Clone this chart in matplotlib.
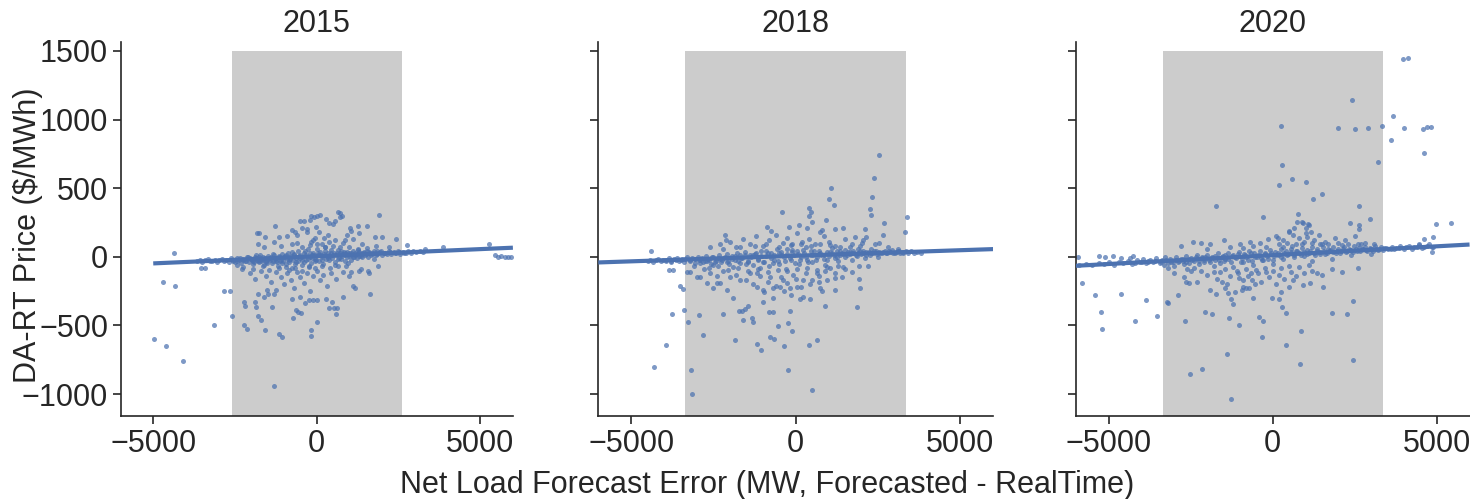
import numpy as np
import matplotlib
matplotlib.use("Agg")
import matplotlib.pyplot as plt

# =========================
# Data
# =========================
years = ["2015", "2018", "2020"]

# fitted line per year: slope, intercept, x range of the drawn line
fit_slope = [0.0104, 0.0081, 0.0129]
fit_intercept = [4, 7.5, 12]
fit_x_start = [-5000, -6000, -6000]
fit_x_end = [6000, 6000, 6000]

# shaded band (+/- forecast error range) per year
band_half_width = [2600, 3350, 3350]

# --- 2015 ---
band_2015 = [
    (-3650, -30), (-3580, -22), (-3500, -38), (-3420, -25), (-3340, -18), (-3270, -33), (-3200, -28),
    (-3120, -20), (-3050, -36), (-2980, -24), (-2900, -14), (-2830, -31), (-2760, -22), (-2690, -40),
    (-2620, -12), (-2560, -27), (-2500, -35), (-2440, -8), (-2380, -20), (-2320, -45), (-2260, -15),
    (-2200, -28), (-2140, 2), (-2080, -38), (-2020, -18), (-1960, -55), (-1900, -5), (-1840, -25),
    (-1780, -40), (-1720, 10), (-1660, -15), (-1600, -60), (-1540, -30), (-1480, 5), (-1420, -20),
    (-1360, -45), (-1300, 15), (-1240, -10), (-1180, -70), (-1120, -28), (-1060, 20), (-1000, -5),
    (-940, -50), (-880, 30), (-820, -18), (-760, -80), (-700, 10), (-640, -35), (-580, 45), (-520, -12),
    (-460, -60), (-400, 25), (-340, -25), (-280, 55), (-220, 0), (-160, -45), (-100, 30), (-40, -15),
    (20, 60), (80, -30), (140, 15), (200, -55), (260, 40), (320, 5), (380, -25), (440, 50), (500, 12),
    (560, -40), (620, 30), (680, -8), (740, 45), (800, 18), (860, -30), (920, 35), (980, 8), (1040, -20),
    (1100, 40), (1160, 15), (1220, -12), (1280, 32), (1340, 20), (1400, -5), (1460, 38), (1520, 22),
    (1580, 0), (1640, 30), (1700, 18), (1760, 42), (1820, 10), (1880, 28), (1940, 35), (2000, 15),
    (2070, 30), (2140, 22), (2210, 40), (2280, 18), (2350, 32), (2420, 25), (2490, 45), (2560, 20),
    (2640, 35), (2720, 28), (2800, 40), (2880, 30), (2960, 45), (3050, 35), (3150, 42), (3250, 38),
    (-2100, -5), (-1950, -30), (-1850, 12), (-1750, -22), (-1650, -2), (-1550, -38), (-1450, -12),
    (-1350, 22), (-1250, -32), (-1150, 5), (-1050, -45), (-950, 15), (-850, -25), (-750, 35), (-650, -55),
    (-550, 8), (-450, -20), (-350, 40), (-250, -65), (-150, 10), (-50, -30), (50, 25), (150, -20),
    (250, 70), (350, -10), (450, 28), (550, -60), (650, 50), (750, -15), (850, 25), (950, -45), (1050, 30),
    (1150, -5), (1250, 50), (1350, 5), (1450, 25), (1550, 45), (1650, 10), (1750, -15), (1850, 40),
    (-2550, -20), (-2450, -30), (-2350, -12), (-2250, -25), (-2150, -32), (-2050, -8), (-1990, -22),
    (-1920, -35), (-1870, -12), (-1810, -28), (-1760, -5), (-1700, -30), (-1640, -20), (-1580, -8),
    (-1520, -42), (-1460, -18), (-1400, 0), (-1340, -28), (-1280, -15), (-1220, -38), (-1160, 0),
    (-1100, -20), (-1040, -32), (-980, 8), (-920, -18), (-860, -40), (-800, 5), (-740, -22), (-680, 20),
    (-620, -10), (-560, -28), (-500, 15), (-440, -5), (-380, -35), (-320, 12), (-260, -15), (-200, 25),
    (-140, -8), (-80, 15), (-20, -25), (40, 10), (100, 35), (160, -5), (220, 20), (280, -15), (340, 30),
    (400, 8), (460, -12), (520, 25), (580, 10), (640, -15), (700, 28), (760, 5), (820, 35), (880, 12),
    (940, -5), (1000, 25), (1060, 15), (1120, 0), (1180, 30), (1240, 22), (1300, 5), (1380, 28),
    (1480, 15), (1600, 35), (1720, 25), (1840, 20), (1960, 40), (2100, 28), (2240, 35), (2380, 30),
    (2520, 38), (2660, 30),
]
spread_2015 = [
    (-2300, -90), (-2050, -120), (-1900, -160), (-1700, -100), (-1550, -140), (-1400, -180), (-1250, -110),
    (-1100, -150), (-1000, -200), (-900, -120), (-800, -170), (-700, -230), (-600, -110), (-500, -150),
    (-400, -190), (-300, -120), (-200, -250), (-100, -140), (0, -100), (100, -170), (200, -130), (300, -210),
    (450, -120), (600, -160), (800, -110), (1000, -140), (1300, -100), (1600, -120), (-1800, 90),
    (-1300, 110), (-900, 150), (-600, 100), (-300, 180), (-100, 120), (150, 90), (350, 160), (550, 120),
    (800, 100), (1100, 130), (1400, 90), (1800, 80), (2200, 70),
    (-2450, -60), (-2250, -75), (-1950, -90), (-1650, -70), (-1450, -95), (-1150, -85), (-950, -75),
    (-850, -95), (-650, -80), (-450, -100), (-250, -75), (-50, -85), (150, -70), (400, -80), (650, -65),
    (900, -70), (-1600, 70), (-1100, 80), (-750, 90), (-450, 70), (-200, 85), (0, 95), (250, 75),
    (500, 80), (700, 70), (1000, 75), (1250, 60), (1550, 65),
    (-4364, 25), (-4710, -182), (-4333, -211), (-4966, -600), (-4609, -648), (-4080, -757), (-3141, -497),
    (-2590, -432), (-2835, -250), (-2651, -250), (-3538, -85), (-3416, -85), (-1296, -944), (-2223, -328),
    (-2183, -359), (-1896, -330), (-1856, -364), (-2214, -497), (-2131, -527), (-1795, -432), (-1713, -461),
    (-1581, -531), (-1153, -565), (-1070, -582), (-174, -534), (-174, -575), (18, -478), (-716, -449),
    (-633, -388), (-562, -400), (-480, -408), (-1786, -269), (-1621, -294), (-1480, -272), (-1358, -366),
    (-1320, -270), (-1230, -240), (-1529, -243), (-765, -306), (-501, -291), (-349, -340), (-245, -315),
    (-113, -313), (18, -315), (284, -308), (468, -330), (520, -376), (612, -371), (600, -420), (376, -371),
    (795, -296), (1101, -213), (1180, -230), (1621, -270), (1040, -114), (1364, -92), (1569, -102),
    (1875, -70),
    (1915, 304), (661, 323), (713, 316), (765, 299), (722, 289), (-174, 296), (-73, 289), (18, 296),
    (101, 301), (-501, 262), (-379, 262), (-214, 267), (294, 275), (385, 248), (560, 262), (508, 238),
    (-1266, 226), (-1835, 170), (-1774, 170), (-1572, 146), (-1153, 141), (-755, 194), (-673, 180),
    (-612, 158), (1254, 224), (1538, 224), (1009, 211), (1058, 189), (1294, 170), (1783, 146), (2006, 141),
    (2434, 127), (-31, 214), (61, 182), (-440, 210), (-300, 200), (214, 134), (367, 109), (-180, 110),
    (-40, 140), (930, 160), (850, 120),
    (2752, 85), (3312, 54), (3872, 68), (5269, 92), (5450, 10), (5550, 0), (5650, 5), (5750, -3),
    (5850, 2), (5930, 0),
]

# --- 2018 ---
band_2018 = [
    (-4500, -30), (-4420, -22), (-4340, -35), (-4260, -25), (-4180, -18), (-4100, -32), (-4020, -20),
    (-3940, -28), (-3860, -12), (-3780, -35), (-3700, -18), (-3620, -8), (-3540, -30), (-3460, -15),
    (-3380, -40), (-3300, -5), (-3220, -25), (-3140, -12), (-3060, -45), (-2980, 2), (-2900, -22),
    (-2820, -35), (-2740, 8), (-2660, -15), (-2580, -50), (-2500, -2), (-2420, -28), (-2340, 15),
    (-2260, -40), (-2180, -10), (-2100, 20), (-2020, -55), (-1940, 5), (-1860, -25), (-1780, 30),
    (-1700, -45), (-1620, -8), (-1540, 35), (-1460, -30), (-1380, 10), (-1300, -60), (-1220, 25),
    (-1140, -15), (-1060, 45), (-980, -40), (-900, 8), (-820, -70), (-740, 30), (-660, -20), (-580, 55),
    (-500, -50), (-420, 15), (-340, -30), (-260, 60), (-180, -10), (-100, 35), (-20, -45), (60, 20),
    (140, -25), (220, 50), (300, 0), (380, -35), (460, 40), (540, 10), (620, -20), (700, 45), (780, 15),
    (860, -15), (940, 38), (1020, 5), (1100, 28), (1180, -10), (1260, 40), (1340, 15), (1420, 30),
    (1500, 0), (1580, 35), (1660, 20), (1740, 45), (1820, 12), (1900, 30), (1980, 22), (2060, 40),
    (2140, 15), (2220, 35), (2300, 25), (2380, 45), (2460, 20), (2540, 38), (2620, 28), (2700, 42),
    (2780, 25), (2860, 35), (2940, 48), (3020, 30), (3100, 40), (3180, 25), (3260, 38), (3340, 45),
    (3420, 30), (3500, 40), (3600, 28), (3700, 35), (3800, 30),
    (-2900, -45), (-2700, -28), (-2500, -60), (-2300, -15), (-2100, -35), (-1900, -75), (-1700, 10),
    (-1500, -55), (-1300, 15), (-1100, -80), (-900, 40), (-700, -45), (-500, 25), (-300, -90), (-100, 50),
    (100, -55), (300, 70), (500, -40), (700, 20), (900, -60), (1100, 65), (1300, -30), (1500, 50),
    (1700, -20), (1900, 60), (2100, -10), (2300, 55), (2500, 0),
    (-3950, -22), (-3800, -28), (-3650, -20), (-3500, -25), (-3350, -18), (-3200, -30), (-3050, -15),
    (-2950, -25), (-2850, -10), (-2750, -32), (-2650, -20), (-2550, -5), (-2450, -35), (-2350, -12),
    (-2250, -22), (-2150, 0), (-2050, -28), (-1950, -15), (-1850, 5), (-1750, -30), (-1650, -10),
    (-1550, 15), (-1450, -38), (-1350, -5), (-1250, 20), (-1150, -25), (-1050, 5), (-950, -40), (-850, 25),
    (-750, -10), (-650, 15), (-550, -30), (-450, 35), (-350, -5), (-250, 20), (-150, -20), (-50, 10),
    (50, 40), (150, -5), (250, 25), (350, -20), (450, 15), (550, 45), (650, 0), (750, 30), (850, 10),
    (950, -20), (1050, 35), (1150, 15), (1250, 0), (1350, 40), (1450, 20), (1550, 10), (1650, 35),
    (1750, 25), (1850, 5), (1950, 40), (2050, 25), (2150, 35), (2250, 15), (2350, 30), (2450, 40),
    (2550, 25), (2650, 35), (2750, 30), (2850, 40), (2950, 28), (3050, 35), (3150, 42), (3250, 30),
]
spread_2018 = [
    (-2600, 70), (-2300, 90), (-2000, 110), (-1800, 75), (-1600, 130), (-1400, 95), (-1200, 150),
    (-1000, 80), (-800, 120), (-600, 160), (-400, 100), (-250, 140), (-100, 90), (50, 170), (200, 110),
    (400, 130), (600, 90), (850, 150), (1000, 110), (1200, 80), (1500, 130), (1700, 95), (2000, 100),
    (2400, 90), (2800, 75), (3100, 60),
    (-3300, -110), (-3000, -150), (-2800, -90), (-2400, -140), (-2200, -100), (-1800, -130), (-1500, -170),
    (-1300, -200), (-1100, -140), (-950, -260), (-850, -180), (-700, -300), (-600, -210), (-450, -150),
    (-350, -250), (-250, -190), (-150, -280), (0, -160), (150, -220), (300, -120), (500, -170),
    (700, -140), (900, -100), (1200, -120), (1500, -90), (1700, -110), (2200, -70),
    (-3100, -70), (-2650, -85), (-2350, -70), (-2050, -95), (-1750, -80), (-1450, -100), (-1150, -90),
    (-850, -110), (-550, -95), (-250, -105), (50, -90), (350, -80), (650, -95), (950, -75), (1300, -70),
    (-2200, 60), (-1700, 70), (-1250, 80), (-900, 95), (-500, 75), (-150, 85), (150, 95), (450, 80),
    (750, 90), (1050, 85), (1350, 75), (1650, 70), (1950, 80),
    (2523, 743), (2371, 571), (2319, 433), (2258, 345), (2280, 301), (1064, 503), (1012, 420), (1173, 379),
    (912, 267), (3374, 287), (3322, 180), (2684, 248), (2644, 158), (2541, 97), (2097, 200), (2146, 146),
    (2055, 122), (-416, 323), (414, 352), (456, 328), (404, 296), (505, 255), (-213, 214), (100, 231),
    (334, 207), (790, 194), (739, 182), (1195, 200), (1429, 207), (1802, 146), (-881, 214), (-760, 189),
    (-2149, 158), (-2128, 122), (-4407, 42),
    (-4298, -801), (-3942, -643), (-3769, -417), (-3404, -390), (-3517, -211), (-3435, -235), (-3842, -97),
    (-3720, -97), (-3173, -825), (-3143, -1000), (-3264, -473), (-2948, -425), (-2827, -568), (-2219, -415),
    (-1845, -609), (-1723, -395), (-1632, -398), (-1532, -383), (-1593, -463), (-1459, -357), (-1328, -449),
    (-1307, -473), (-1167, -636), (-1055, -680), (-781, -583), (-650, -599), (-365, -648), (-547, -502),
    (-243, -481), (-103, -541), (-173, -393), (-802, -403), (-699, -403), (-985, -330), (-234, -825),
    (505, -968), (395, -641), (647, -607), (881, -357), (1195, -245), (1873, -366), (1933, -165),
    (1955, -230), (1933, -68), (131, -310), (232, -296), (435, -308), (717, -187), (960, -170),
    (1195, -157), (1398, -146), (739, -225), (790, -250), (435, -200),
    (-2705, -194), (-2504, -230), (-2301, -194), (-2097, -243), (-1897, -303), (-1185, -218), (-985, -243),
    (-681, -230), (-477, -218), (-173, -230), (30, -218),
    (-3213, -109), (-2909, -146), (-2605, -121), (-2402, -194), (-1997, -146), (-1693, -170), (-1389, -121),
    (-1186, -121), (-781, -146), (-377, -170), (-73, -133), (231, -170), (638, -121), (1043, -84),
    (1447, -73),
]

# --- 2020 ---
band_2020 = [
    (-5900, -60), (-5700, -50), (-5500, -62), (-5300, -45), (-5150, -55), (-5000, -40), (-4850, -58),
    (-4700, -35), (-4550, -48), (-4400, -28), (-4280, -50), (-4150, -22), (-4050, -40), (-3950, -15),
    (-3850, -45), (-3750, -20), (-3650, -38), (-3550, -10), (-3450, -42), (-3360, -25), (-3280, -5),
    (-3200, -48), (-3120, -18), (-3040, -35), (-2960, 0), (-2880, -40), (-2800, -15), (-2720, -30),
    (-2640, 5), (-2560, -45), (-2480, -10), (-2400, -28), (-2320, 10), (-2240, -50), (-2160, -5),
    (-2080, -25), (-2000, 15), (-1920, -40), (-1840, 0), (-1760, -20), (-1680, 25), (-1600, -45),
    (-1520, 5), (-1440, -15), (-1360, 30), (-1280, -35), (-1200, 12), (-1120, -10), (-1040, 35),
    (-960, -40), (-880, 20), (-800, -5), (-720, 40), (-640, -30), (-560, 25), (-480, 0), (-400, 45),
    (-320, -25), (-240, 30), (-160, 5), (-80, 50), (0, -20), (80, 35), (160, 10), (240, 55), (320, -15),
    (400, 40), (480, 20), (560, 60), (640, -5), (720, 45), (800, 25), (880, 65), (960, 5), (1040, 50),
    (1120, 30), (1200, 70), (1280, 15), (1360, 55), (1440, 35), (1520, 75), (1600, 20), (1680, 55),
    (1760, 40), (1840, 70), (1920, 30), (2000, 60), (2080, 45), (2160, 75), (2240, 35), (2320, 60),
    (2400, 50), (2480, 80), (2560, 40), (2640, 65), (2720, 55), (2800, 75), (2880, 45), (2960, 65),
    (3040, 58), (3120, 80), (3200, 50), (3300, 70), (3400, 62), (3520, 55), (3640, 75), (3760, 65),
    (3880, 80), (4000, 60), (4150, 82), (4300, 70), (4450, 85), (4600, 75), (4750, 90), (4900, 70),
    (-3300, -60), (-3000, -70), (-2700, -55), (-2400, -80), (-2100, -40), (-1800, -65), (-1500, -30),
    (-1200, -75), (-900, -35), (-600, -60), (-300, -20), (0, -55), (300, 70), (600, 80), (900, 90),
    (1200, -30), (1500, 95), (1800, -15), (2100, 85), (2400, 10), (2700, 90), (3000, 20),
    (-4000, -35), (-3800, -40), (-3600, -30), (-3400, -38), (-3250, -25), (-3100, -35), (-2950, -20),
    (-2850, -30), (-2750, -18), (-2650, -35), (-2550, -15), (-2450, -25), (-2350, -5), (-2250, -30),
    (-2150, -12), (-2050, -2), (-1950, -25), (-1850, -10), (-1750, 5), (-1650, -20), (-1550, 0),
    (-1450, 15), (-1350, -15), (-1250, 8), (-1150, -5), (-1050, 20), (-950, -12), (-850, 10), (-750, -20),
    (-650, 25), (-550, 0), (-450, 15), (-350, -8), (-250, 20), (-150, -15), (-50, 25), (50, 5), (150, 30),
    (250, -5), (350, 25), (450, 10), (550, 35), (650, 15), (750, 40), (850, 10), (950, 35), (1050, 20),
    (1150, 45), (1250, 25), (1350, 40), (1450, 20), (1550, 45), (1650, 30), (1750, 50), (1850, 35),
    (1950, 45), (2050, 30), (2150, 55), (2250, 40), (2350, 50), (2450, 35), (2550, 55), (2650, 45),
    (2750, 60), (2850, 50), (2950, 55), (3050, 45), (3150, 60), (3250, 55), (3350, 50), (3450, 65),
    (3600, 55), (3700, 60), (3850, 65), (4050, 70), (4250, 60), (4400, 75), (4550, 65), (4700, 80),
    (4850, 75),
]
spread_2020 = [
    (-3000, -120), (-2700, -150), (-2500, -100), (-2300, -180), (-2000, -130), (-1900, -240), (-1700, -160),
    (-1600, -110), (-1400, -200), (-1300, -140), (-1150, -260), (-1050, -120), (-900, -170), (-750, -140),
    (-550, -200), (-450, -120), (-350, -180), (-200, -110), (-100, -150), (100, -200), (200, -130),
    (350, -160), (550, -110), (700, -140), (950, -120), (1200, -100), (1500, -130), (1800, -90),
    (2100, -110), (2600, -80),
    (-2800, 80), (-2200, 100), (-1900, 95), (-1500, 120), (-1000, 90), (-700, 110), (-400, 100),
    (-150, 130), (100, 150), (300, 120), (500, 180), (650, 210), (800, 140), (900, 250), (1000, 170),
    (1100, 230), (1250, 120), (1400, 160), (1600, 110), (1900, 140), (2200, 120), (2500, 150),
    (2800, 100), (3100, 90),
    (-3200, -85), (-2600, -90), (-2200, -100), (-1800, -110), (-1450, -90), (-1100, -100), (-800, -90),
    (-500, -95), (-250, -80), (0, -100), (250, -85), (500, -70), (800, -75), (1100, -60), (-2000, 60),
    (-1300, 70), (-900, 65), (-600, 80), (-200, 75), (200, 90), (450, 100), (700, 95), (950, 110),
    (1200, 100), (1450, 95), (1700, 90), (2000, 100), (2300, 90), (2600, 95),
    (3963, 1438), (4116, 1445), (2427, 1139), (244, 954), (1982, 940), (2518, 930), (2896, 935),
    (3332, 954), (3659, 1025), (3994, 942), (3607, 848), (4573, 930), (4713, 947), (4817, 947),
    (4622, 760), (3210, 690), (274, 666), (192, 520), (598, 564), (1006, 542), (1220, 420), (1494, 454),
    (2631, 371), (2348, 243), (2631, 229), (2640, 202), (2966, 275), (-1729, 371), (-296, 287),
    (771, 311), (750, 255), (915, 243), (1085, 236), (1015, 207), (1159, 182), (1037, 146), (506, 189),
    (628, 158), (162, 134), (4970, 240), (5427, 243), (4878, 146), (4622, 127), (4460, 92), (4848, 32),
    (-2421, 105),
    (-5823, -189), (-5408, -281), (-5226, -403), (-5195, -527), (-4625, -272), (-4189, -471),
    (-3872, -318), (-3527, -430), (-3232, -332), (-3201, -340), (-2896, -281), (-2674, -466),
    (-2652, -182), (-2543, -189), (-2530, -854), (-2155, -816), (-2055, -405), (-1851, -417),
    (-1738, -272), (-1546, -182), (-1445, -230), (-1354, -262), (-1280, -310), (-1210, -347),
    (-1323, -444), (-1384, -709), (-1271, -1039), (-1018, -500), (-1027, -157), (-915, -218),
    (-945, -243), (-814, -230), (-723, -230), (-640, -170), (-662, -121), (-610, -303), (-418, -437),
    (-305, -468), (-326, -583), (-12, -303), (192, -306), (274, -364), (405, -408), (253, -259),
    (415, -645), (854, -539), (841, -781), (488, -218), (628, -170), (924, -206), (1128, -194),
    (1534, -218), (1341, -121), (1817, -408), (2256, -420), (2439, -325), (2439, -750),
    (-5296, 7), (-5113, 0), (-4860, 5), (-4634, -12), (-4351, -12), (-4250, 5), (-5950, 0),
    (-4190, -45), (-3800, -30),
]

points = [band_2015 + spread_2015, band_2018 + spread_2018, band_2020 + spread_2020]

# =========================
# Plot
# =========================
plt.rcParams["font.family"] = ["Liberation Sans", "DejaVu Sans"]
plt.rcParams["axes.unicode_minus"] = True

fs = 22
blue = "#4C72B0"
text_color = "#262626"

fig = plt.figure(figsize=(14.7, 4.99), dpi=100)
lefts = [0.0820, 0.4070, 0.7319]
widths = [0.2669, 0.2686, 0.2678]
bottom, height = 0.1663, 0.7495

y_low, y_high = -1160, 1565

for i, year in enumerate(years):
    ax = fig.add_axes([lefts[i], bottom, widths[i], height])
    pts = np.array(points[i], dtype=float)

    hw = band_half_width[i]
    ax.fill_betweenx([y_low, 1500], -hw, hw, color="#cccccc", linewidth=0, zorder=0)

    ax.scatter(pts[:, 0], pts[:, 1], s=13, color=blue, alpha=0.72, linewidths=0, zorder=2)

    lx = np.array([fit_x_start[i], fit_x_end[i]])
    ax.plot(lx, fit_intercept[i] + fit_slope[i] * lx, color=blue, lw=3, zorder=3,
            solid_capstyle="butt")

    ax.set_xlim(-6000, 6000)
    ax.set_ylim(y_low, y_high)
    ax.set_xticks([-5000, 0, 5000])
    ax.set_yticks([-1000, -500, 0, 500, 1000, 1500])
    ax.set_title(year, fontsize=fs, color=text_color, pad=7)

    for side in ["top", "right"]:
        ax.spines[side].set_visible(False)
    for side in ["left", "bottom"]:
        ax.spines[side].set_color(text_color)
        ax.spines[side].set_linewidth(1.2)
    ax.tick_params(axis="both", direction="out", length=6, width=1.2, color=text_color,
                   labelcolor=text_color, labelsize=fs, pad=3)
    if i > 0:
        ax.tick_params(axis="y", labelleft=False)

# y label placed by hand so it sits inside the figure like the reference
fig.text(28 / 1470, 1 - 235 / 499, "DA-RT Price ($/MWh)", rotation=90,
         ha="center", va="center", fontsize=fs, color=text_color)

fig.text(0.522, 0.028, "Net Load Forecast Error (MW, Forecasted - RealTime)",
         ha="center", va="center", fontsize=fs, color=text_color)

fig.savefig("out.png", dpi=100)
